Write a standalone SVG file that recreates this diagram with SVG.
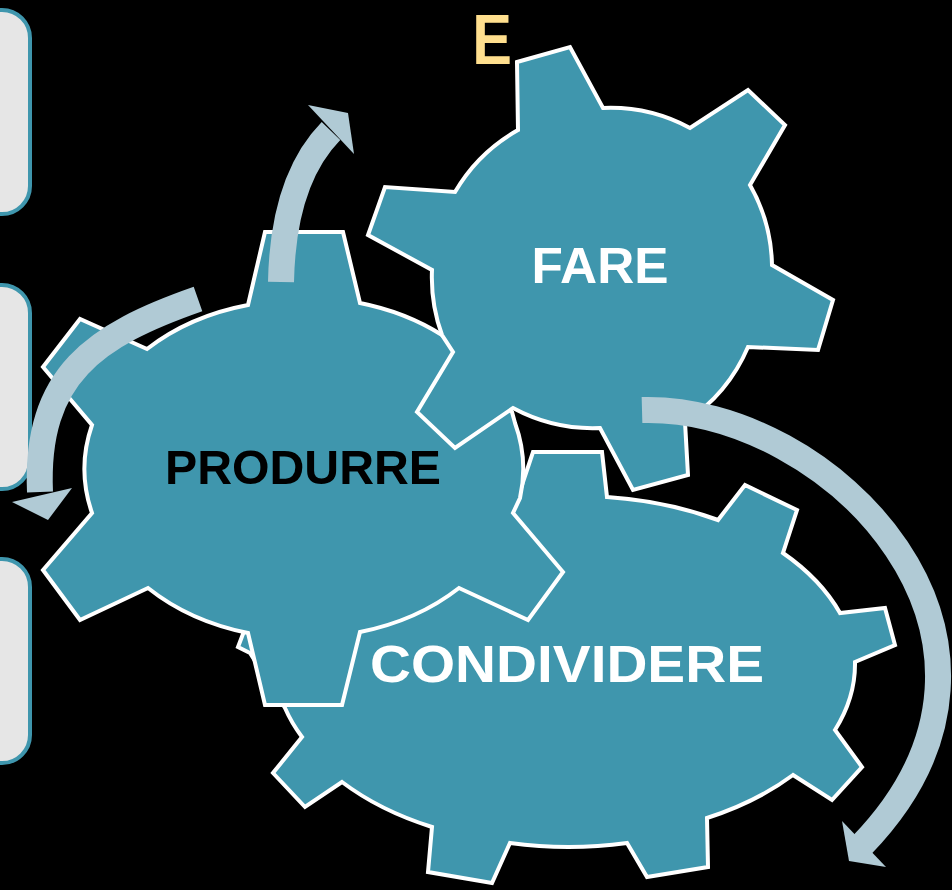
<svg xmlns="http://www.w3.org/2000/svg" width="952" height="890" viewBox="0 0 952 890">
<style>
.bg{fill:#000000}
.box{fill:#E6E6E6;stroke:#3F96AD;stroke-width:4}
.gear{fill:#3F96AD;stroke:#FFFFFF;stroke-width:4;stroke-linejoin:miter}
.lbl{font-family:"Liberation Sans",Arial,sans-serif;font-weight:bold;text-anchor:middle}
.shaft{fill:none;stroke:#B0CAD5;stroke-width:26;stroke-linecap:butt}
.head{fill:#B0CAD5}
</style>
<rect class="bg" x="0" y="0" width="952" height="890"/>
<g id="box1"><rect class="box" x="-40" y="10" width="70" height="204" rx="28"/></g>
<g id="box2"><rect class="box" x="-40" y="285" width="70" height="204" rx="28"/></g>
<g id="box3"><rect class="box" x="-40" y="559" width="70" height="204" rx="28"/></g>
<g id="title"><text class="lbl" x="492" y="64" font-size="70" fill="#FFDF8E" transform="translate(492 0) scale(0.85 1) translate(-492 0)">E</text></g>
<g id="condividere">
<path class="gear" d="M 533 452 L 602 452 L 607 497 A 280 178 0 0 1 718 520 L 745 485 L 797 510 L 783 553 A 280 178 0 0 1 840 613 L 885 608 L 895 645 L 855 662 A 280 178 0 0 1 835 730 L 862 767 L 832 800 L 793 775 A 280 178 0 0 1 707 818 L 708 867 L 647 877 L 627 843 A 280 178 0 0 1 510 843 L 492 883 L 428 872 L 432 827 A 280 178 0 0 1 342 782 L 305 807 L 273 773 L 302 737 A 280 178 0 0 1 285 708 L 250 653 L 238 647 L 246 626 L 300 560 L 480 530 L 512 515 Z"/>
</g>
<g id="produrre">
<path class="gear" d="M 265 232 L 343 232 L 360 303 A 215 168 0 0 1 442 335 L 512 412 L 515 423 A 215 168 0 0 1 520 498 L 513 513 L 563 572 L 528 620 L 459 588 A 215 168 0 0 1 360 632 L 342 705 L 265 705 L 248 633 A 215 168 0 0 1 148 588 L 80 620 L 43 570 L 92 513 A 215 168 0 0 1 92 425 L 43 367 L 80 319 L 147 349 A 215 168 0 0 1 248 305 Z"/>
</g>
<g id="fare">
<path class="gear" d="M 517 62 L 570 47 L 603 108 A 168 168 0 0 1 690 128 L 748 90 L 785 125 L 750 185 A 168 168 0 0 1 772 265 L 833 300 L 818 350 L 748 347 A 168 168 0 0 1 685 422 L 688 475 L 633 490 L 600 428 A 168 168 0 0 1 513 408 L 455 448 L 417 412 L 453 352 L 442 335 A 168 168 0 0 1 432 270 L 368 235 L 385 187 L 455 192 A 168 168 0 0 1 518 130 Z"/>
</g>
<g id="connectors">
<path class="shaft" d="M 281 282 Q 283 180 331 131"/>
<polygon class="head" points="308,105 348,113 354,154"/>
<path class="shaft" d="M 198 299 C 95 335 35 375 40 492"/>
<polygon class="head" points="12,502 72,488 48,520"/>
<path class="shaft" d="M 642 410 C 830 405 1060 640 862 845"/>
<polygon class="head" points="842,821 849,861 886,867"/>
</g>
<g id="labels">
<text class="lbl" x="600" y="283" font-size="50" fill="#FFFFFF" textLength="137" lengthAdjust="spacingAndGlyphs">FARE</text>
<text class="lbl" x="303" y="484" font-size="49" fill="#000000" textLength="276" lengthAdjust="spacingAndGlyphs">PRODURRE</text>
<text class="lbl" x="567" y="682" font-size="52" fill="#FFFFFF" textLength="394" lengthAdjust="spacingAndGlyphs">CONDIVIDERE</text>
</g>
</svg>
